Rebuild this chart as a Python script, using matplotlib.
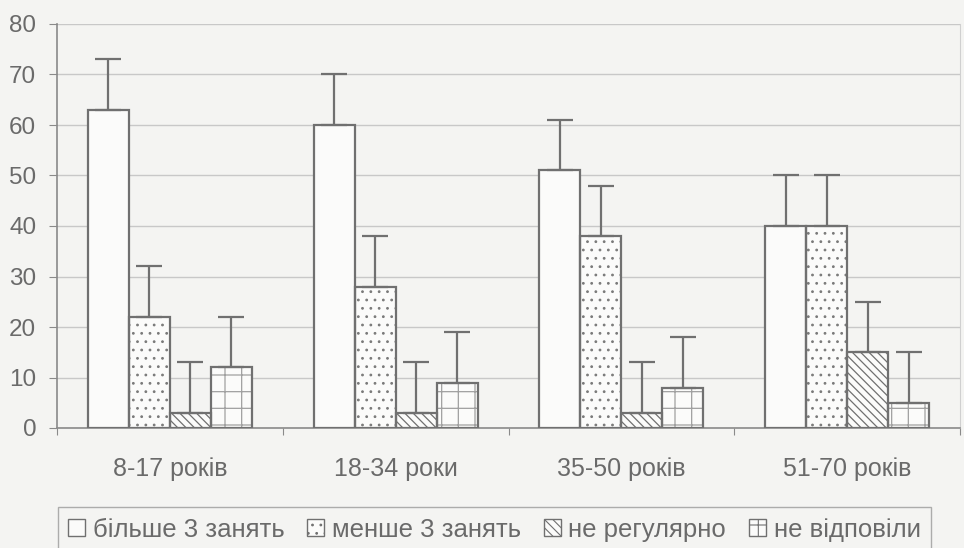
import matplotlib
matplotlib.use("Agg")
import matplotlib.pyplot as plt
import numpy as np
from matplotlib.patches import Patch

plt.rcParams['font.family'] = ['Liberation Sans', 'DejaVu Sans']
plt.rcParams['hatch.linewidth'] = 0.8

categories = ["8-17 років", "18-34 роки", "35-50 років", "51-70 років"]
series_names = ["більше 3 занять", "менше 3 занять", "не регулярно", "не відповіли"]
more3 = [63, 60, 51, 40]
less3 = [22, 28, 38, 40]
irregular = [3, 3, 3, 15]
no_answer = [12, 9, 8, 5]
err_more3 = [10, 10, 10, 10]
err_less3 = [10, 10, 10, 10]
err_irregular = [10, 10, 10, 10]
err_no_answer = [10, 10, 10, 10]
yticks = [0, 10, 20, 30, 40, 50, 60, 70, 80]

series = [more3, less3, irregular, no_answer]
errors = [err_more3, err_less3, err_irregular, err_no_answer]
hatches = [None, '..', '\\\\\\\\', '+']
hatch_colors = ['#707070', '#7a7a7a', '#707070', '#a0a0a0']
hatch_lw = [0.8, 0.8, 0.9, 0.9]

bg = '#f4f4f2'
edge = '#707070'
fill = '#fbfbfa'
text_c = '#6a6a6a'

fig = plt.figure(figsize=(9.64, 5.48), dpi=100, facecolor=bg)
ax = fig.add_axes([57/964, 1-428/548, (960-57)/964, (428-24)/548])
ax.set_facecolor(bg)

x = np.arange(len(categories))
w = 1/5.5
for i, (vals, errs, h) in enumerate(zip(series, errors, hatches)):
    pos = x + (i - 1.5) * w
    ax.bar(pos, vals, width=w, facecolor=fill, edgecolor='none', linewidth=0, zorder=2)
    if h:
        with plt.rc_context({'hatch.linewidth': hatch_lw[i]}):
            ax.bar(pos, vals, width=w, facecolor='none', edgecolor=hatch_colors[i],
                   linewidth=0, hatch=h, zorder=3)
    ax.bar(pos, vals, width=w, facecolor='none', edgecolor=edge, linewidth=1.6, zorder=4)
    ax.errorbar(pos, vals, yerr=[np.zeros(len(errs)), errs], fmt='none',
                ecolor=edge, elinewidth=1.6, capsize=9.5, capthick=1.6, zorder=5)

ax.set_xlim(-0.5, 3.5)
ax.set_ylim(0, 80)
ax.set_yticks(yticks)
ax.yaxis.grid(True, color='#c8c8c8', linewidth=1.0, zorder=0)
ax.set_xticks(np.arange(-0.5, 4.0, 1.0))
ax.set_xticklabels([])
ax.set_xticks(x, minor=True)
ax.set_xticklabels(categories, minor=True)
ax.tick_params(axis='x', which='major', length=5, color='#8a8a8a', direction='out')
ax.tick_params(axis='x', which='minor', length=0, pad=21, labelsize=18, labelcolor=text_c)
ax.tick_params(axis='y', length=6, color='#8a8a8a', labelsize=17.5, labelcolor=text_c, pad=9)

ax.spines['top'].set_visible(False)
ax.spines['right'].set_color('#d0d0d0')
ax.spines['left'].set_color('#8a8a8a')
ax.spines['bottom'].set_color('#8a8a8a')
ax.spines['left'].set_linewidth(1.2)
ax.spines['bottom'].set_linewidth(1.2)

handles = []
for i, h in enumerate(hatches):
    handles.append(Patch(facecolor=fill, edgecolor=edge, hatch=h, linewidth=1.0))
leg = fig.legend(handles, series_names, loc='lower left',
                 bbox_to_anchor=(58/964, -4/548), ncol=4, fontsize=18.5,
                 frameon=True, fancybox=False, edgecolor='#9a9a9a',
                 facecolor=bg, handlelength=0.65, handleheight=0.65,
                 handletextpad=0.3, columnspacing=0.9, borderpad=0.4,
                 borderaxespad=0)
for t in leg.get_texts():
    t.set_color(text_c)
leg.get_frame().set_linewidth(1.0)

fig.savefig("out.png", dpi=100, facecolor=bg)
